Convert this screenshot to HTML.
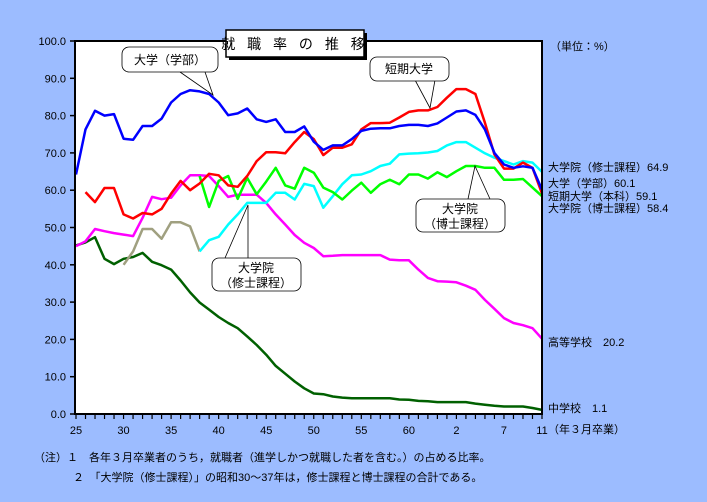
<!DOCTYPE html>
<html><head><meta charset="utf-8"><style>
html,body{margin:0;padding:0;}
body{width:707px;height:497px;background:#9cbcff;font-family:"Liberation Sans","Noto Sans CJK JP",sans-serif;overflow:hidden;}
svg text{font-family:"Liberation Sans","Noto Sans CJK JP",sans-serif;}
</style></head><body>
<svg id="chart" width="707" height="497" xmlns="http://www.w3.org/2000/svg">
<rect x="75" y="41" width="467" height="373" fill="#fff"/>
<g id="series"></g>
<g id="axes"></g>
<rect x="229" y="33" width="138" height="27" fill="#000"/>
<rect x="226" y="30" width="138" height="27" fill="#fff" stroke="#000" stroke-width="1.5"/>
<text x="295" y="49" font-size="14" text-anchor="middle" letter-spacing="4">就 職 率 の 推 移</text>
<text x="550" y="50" font-size="11">（単位：%）</text>
<text x="548" y="433" font-size="11">（年３月卒業）</text>
<text x="34" y="461" font-size="11">（注）１　各年３月卒業者のうち，就職者（進学しかつ就職した者を含む。）の占める比率。</text>
<text x="73" y="481" font-size="11">２　「大学院（修士課程）」の昭和30～37年は，修士課程と博士課程の合計である。</text>
<g font-size="11">
<text x="548" y="171">大学院（修士課程）64.9</text>
<text x="548" y="187">大学（学部）60.1</text>
<text x="548" y="200">短期大学（本科）59.1</text>
<text x="548" y="212">大学院（博士課程）58.4</text>
<text x="548" y="346">高等学校　20.2</text>
<text x="548" y="412">中学校　1.1</text>
</g>
<g>
<path d="M180,72 L213,95 L205,72" fill="#fff" stroke="#000" stroke-width="0.8"/>
<rect x="122" y="47" width="96" height="25" rx="7" fill="#fff" stroke="#000" stroke-width="0.8"/>
<text x="170" y="64" font-size="12" text-anchor="middle">大学（学部）</text>
</g>
<g>
<path d="M415,80 L430,108 L435,80" fill="#fff" stroke="#000" stroke-width="0.8"/>
<rect x="370" y="57" width="79" height="24" rx="7" fill="#fff" stroke="#000" stroke-width="0.8"/>
<text x="409" y="73" font-size="12" text-anchor="middle">短期大学</text>
</g>
<g>
<path d="M225,258 L248,205 L248,258" fill="#fff" stroke="#000" stroke-width="0.8"/>
<rect x="212" y="258" width="89" height="33" rx="7" fill="#fff" stroke="#000" stroke-width="0.8"/>
<text x="256" y="272" font-size="12" text-anchor="middle">大学院</text>
<text x="256" y="287" font-size="12" text-anchor="middle">（修士課程）</text>
</g>
<g>
<path d="M468,199 L475,166 L490,199" fill="#fff" stroke="#000" stroke-width="0.8"/>
<rect x="416" y="199" width="89" height="33" rx="7" fill="#fff" stroke="#000" stroke-width="0.8"/>
<text x="460" y="213" font-size="12" text-anchor="middle">大学院</text>
<text x="460" y="228" font-size="12" text-anchor="middle">（博士課程）</text>
</g>
</svg>
<script>
const years = [];
for (let y = 1950; y <= 1999; y++) years.push(y);
const xTickLabels = ["25","30","35","40","45","50","55","60","2","7","11"];
const xTickYears = [1950,1955,1960,1965,1970,1975,1980,1985,1990,1995,1999];
const yTicks = [0,10,20,30,40,50,60,70,80,90,100];
const university = [64.2,76.3,81.3,80,80.4,73.8,73.5,77.2,77.2,79.2,83.5,85.8,86.8,86.5,85.8,83.5,80.1,80.6,81.9,79,78.3,79,75.6,75.6,77.1,73,70.8,72,72,73.7,75.9,76.5,76.6,76.6,77.2,77.5,77.5,77.2,77.9,79.5,81.1,81.4,80.2,76.3,70,66.9,66,66.4,66,60.1];
const juniorCollege = [null,59.5,56.8,60.6,60.6,53.5,52.4,53.9,53.5,55,59.1,62.5,60,61.8,64.4,64,61.3,60.9,63.8,67.8,70.2,70.2,69.9,72.9,75.6,73.7,69.4,71.4,71.4,72.3,76.3,78,78,78.1,79.5,81,81.4,81.4,82.3,84.8,87.1,87.1,85.8,78.1,69.6,65.8,65.8,67.4,66,59.1];
const highSchool = [45,46.3,49.6,49,48.5,48.1,47.7,52.6,58.2,57.6,58,61.3,64,64,63.8,61.1,58.2,58.8,58.8,58.8,56.6,53.5,50.8,48,45.9,44.5,42.3,42.4,42.6,42.6,42.6,42.6,42.6,41.4,41.2,41.2,38.7,36.5,35.6,35.5,35.3,34.4,33.3,30.6,28.2,25.7,24.4,23.8,23,20.2];
const juniorHigh = [45.2,46,47.4,41.6,40.2,41.6,42.1,43.2,40.8,39.9,38.7,35.8,32.6,29.9,28,26,24.4,23,20.8,18.5,15.9,12.9,10.8,8.7,6.9,5.5,5.3,4.7,4.4,4.2,4.2,4.2,4.2,4.2,3.9,3.8,3.5,3.4,3.2,3.2,3.2,3.2,2.8,2.5,2.2,2,2,2,1.6,1.1];
const masterCombined = [null,null,null,null,null,40,43.6,49.6,49.6,47,51.4,51.4,50.3,43.6,null,null,null,null,null,null,null,null,null,null,null,null,null,null,null,null,null,null,null,null,null,null,null,null,null,null,null,null,null,null,null,null,null,null,null,null];
const master = [null,null,null,null,null,null,null,null,null,null,null,null,null,43.6,46.6,47.5,50.8,53.5,56.6,56.6,56.6,59.3,59.3,57.5,61.7,61.1,55.3,58.4,61.6,64,64.2,65.1,66.5,67.1,69.6,69.8,69.9,70.1,70.5,72,72.9,72.9,71.4,69.9,68.7,67.8,66.9,67.8,67.4,64.9];
const doctor = [null,null,null,null,null,null,null,null,null,null,null,null,null,63.8,55.5,62.5,63.8,57.7,63.3,58.9,62.3,66,61.3,60.4,66,64.7,60.7,59.5,57.5,59.9,62,59.3,61.6,62.8,61.6,64.2,64.2,63.1,64.8,63.5,65.1,66.5,66.5,66,66,62.8,62.8,63,60.7,58.4];

const NS = "http://www.w3.org/2000/svg";
const X0 = 76, X1 = 542, Y0 = 414, Y1 = 41;
function xScale(yr){ return X0 + (yr - 1950) * (X1 - X0) / 49; }
function yScale(v){ return Y0 - v * (Y0 - Y1) / 100; }

const seriesG = document.getElementById('series');
const seriesList = [
  [juniorHigh, '#006000', 'line-junior-high'],
  [highSchool, '#ff00ff', 'line-high-school'],
  [masterCombined, '#a0a080', 'line-master-combined'],
  [master, '#00ffff', 'line-master'],
  [doctor, '#00ff00', 'line-doctor'],
  [juniorCollege, '#ff0000', 'line-junior-college'],
  [university, '#0000ff', 'line-university']
];
seriesList.forEach(function(s){
  let d = '', pen = false;
  s[0].forEach(function(v, i){
    if (v === null) { pen = false; return; }
    d += (pen ? 'L' : 'M') + xScale(years[i]).toFixed(1) + ',' + yScale(v).toFixed(1);
    pen = true;
  });
  const p = document.createElementNS(NS, 'path');
  p.setAttribute('d', d);
  p.setAttribute('fill', 'none');
  p.setAttribute('stroke', s[1]);
  p.setAttribute('stroke-width', '2.5');
  p.setAttribute('stroke-linejoin', 'round');
  
  
  seriesG.appendChild(p);
});

const axesG = document.getElementById('axes');
function mk(tag, attrs){
  const e = document.createElementNS(NS, tag);
  for (const k in attrs) e.setAttribute(k, attrs[k]);
  return e;
}
const frame = mk('rect', {x:75, y:41, width:467, height:373, fill:'none', stroke:'#000', 'stroke-width':2});


axesG.appendChild(frame);
yTicks.forEach(function(v){
  const t = mk('line', {x1:70, x2:75, y1:yScale(v), y2:yScale(v), stroke:'#000', 'stroke-width':1.5});
  
  
  axesG.appendChild(t);
  const l = mk('text', {x:66, y:yScale(v)+4, 'font-size':11, 'text-anchor':'end'});
  l.textContent = v.toFixed(1);
  
  
  axesG.appendChild(l);
});
years.forEach(function(yr){
  const t = mk('line', {x1:xScale(yr), x2:xScale(yr), y1:414, y2:419, stroke:'#000', 'stroke-width':1.2});
  
  
  axesG.appendChild(t);
});
xTickLabels.forEach(function(lab, i){
  const l = mk('text', {x:xScale(xTickYears[i]), y:434, 'font-size':11, 'text-anchor':'middle'});
  l.textContent = lab;
  
  
  axesG.appendChild(l);
});
</script>
</body></html>
